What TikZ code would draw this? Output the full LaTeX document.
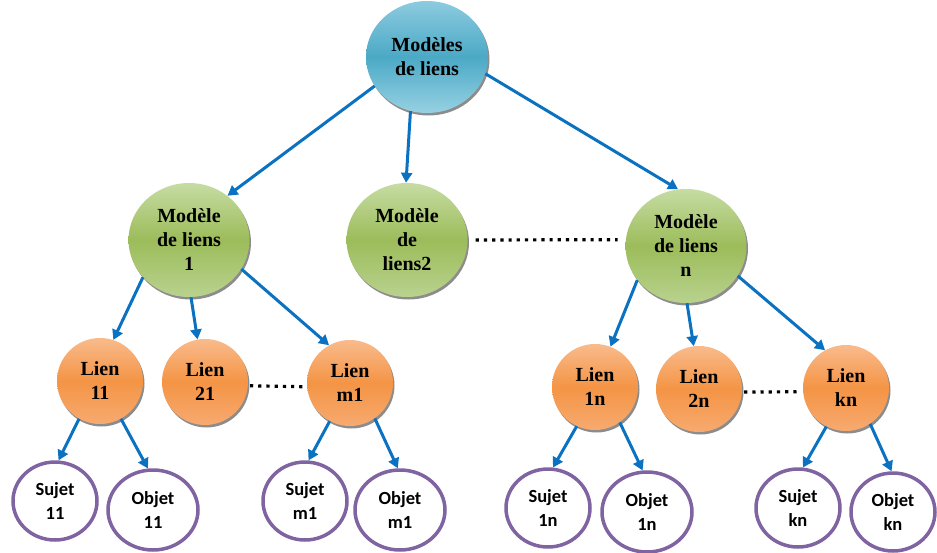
\documentclass[tikz,border=0pt]{standalone}
\usepackage{fontspec}
\setmainfont{Liberation Serif}
\newfontfamily\leaffont{Carlito}
\usetikzlibrary{shapes.geometric,arrows.meta,shadows}

\definecolor{arrowblue}{HTML}{0B72C2}
\definecolor{aquaTop}{HTML}{8DCBDF}
\definecolor{aquaMid}{HTML}{4BA9C6}
\definecolor{aquaBot}{HTML}{97D1E3}
\definecolor{oliveTop}{HTML}{C6DCA3}
\definecolor{oliveMid}{HTML}{9CBC5A}
\definecolor{oliveBot}{HTML}{B9D28E}
\definecolor{orangeTop}{HTML}{F9BB8C}
\definecolor{orangeMid}{HTML}{F49445}
\definecolor{orangeBot}{HTML}{F7AA70}
\definecolor{leafPurple}{HTML}{8064A2}

\begin{document}
\begin{tikzpicture}[x=1pt,y=-1pt,
  bubble/.style={ellipse, inner sep=0pt, align=center,
    font=\bfseries\fontsize{20}{24}\selectfont,
    drop shadow={shadow xshift=1.5pt, shadow yshift=-2.5pt, fill=black, opacity=.45}},
  rootnode/.style={bubble, minimum width=122pt, minimum height=112pt,
    top color=aquaTop, bottom color=aquaBot, middle color=aquaMid},
  modelnode/.style={bubble, minimum width=121pt, minimum height=114pt,
    top color=oliveTop, bottom color=oliveBot, middle color=oliveMid},
  linknode/.style={bubble, minimum width=86pt, minimum height=86pt,
    top color=orangeTop, bottom color=orangeBot, middle color=orangeMid},
  leaf/.style={ellipse, inner sep=0pt, align=center, draw=leafPurple,
    line width=3.5pt, fill=white, minimum width=84pt, minimum height=78pt,
    font=\leaffont\bfseries\fontsize{18.5}{24}\selectfont},
  wideleaf/.style={leaf, minimum width=90pt, minimum height=80pt},
  link/.style={draw=arrowblue, line width=3pt,
    -{Triangle[length=10pt,width=11pt]}},
  dots/.style={line width=3.2pt, dash pattern=on 3.2pt off 5pt}
]
\useasboundingbox (0,0) rectangle (937,552);

% root
\node[rootnode] (T) at (427,57) {Modèles\\de liens};

% models
\node[modelnode] (G1) at (189,240) {Modèle\\de liens\\1};
\node[modelnode] (G2) at (407,240) {Modèle\\de\\liens2};
\node[modelnode] (Gn) at (686,246) {Modèle\\de liens\\n};

% links
\node[linknode] (L11) at (100,381) {Lien\\11};
\node[linknode] (L21) at (205,382) {Lien\\21};
\node[linknode] (Lm1) at (350,383) {Lien\\m1};
\node[linknode] (L1n) at (595,387) {Lien\\1n};
\node[linknode] (L2n) at (699,389) {Lien\\2n};
\node[linknode] (Lkn) at (846,388) {Lien\\kn};

% subjects and objects
\node[leaf]     (S11) at (55,501)  {Sujet\\11};
\node[wideleaf] (O11) at (153,510) {Objet\\11};
\node[leaf]     (Sm1) at (305,501) {Sujet\\m1};
\node[wideleaf] (Om1) at (400,510) {Objet\\m1};
\node[leaf]     (S1n) at (548,508) {Sujet\\1n};
\node[wideleaf] (O1n) at (647,512) {Objet\\1n};
\node[leaf]     (Skn) at (798,508) {Sujet\\kn};
\node[leaf]     (Okn) at (893,512) {Objet\\kn};

% root to models
\draw[link] (T.209) -- (G1.49);
\draw[link] (T.253) -- (G2.91);
\draw[link] (T.344) -- (Gn.98);

% models to links
\draw[link] (G1.219) -- (L11.72);
\draw[link] (G1.272) -- (L21.100);
\draw[link] (G1.331) -- (Lm1.119);
\draw[link] (Gn.215) -- (L1n.69);
\draw[link] (Gn.271) -- (L2n.97);
\draw[link] (Gn.330) -- (Lkn.119);

% links to subjects and objects
\draw[link] (L11.241) -- (S11.85);
\draw[link] (L11.299) -- (O11.97);
\draw[link] (Lm1.242) -- (Sm1.85);
\draw[link] (Lm1.305) -- (Om1.93);
\draw[link] (L1n.245) -- (S1n.83);
\draw[link] (L1n.305) -- (O1n.96);
\draw[link] (Lkn.243) -- (Skn.83);
\draw[link] (Lkn.304) -- (Okn.92);

% ellipsis between siblings
\draw[dots, shorten <=8pt, shorten >=8pt] (G2.0) -- (Gn.174);
\draw[dots, shorten <=2pt, shorten >=2pt] (L21.-5) -- (Lm1.185);
\draw[dots, shorten <=2pt, shorten >=2pt] (L2n.-4) -- (Lkn.185);
\end{tikzpicture}
\end{document}
